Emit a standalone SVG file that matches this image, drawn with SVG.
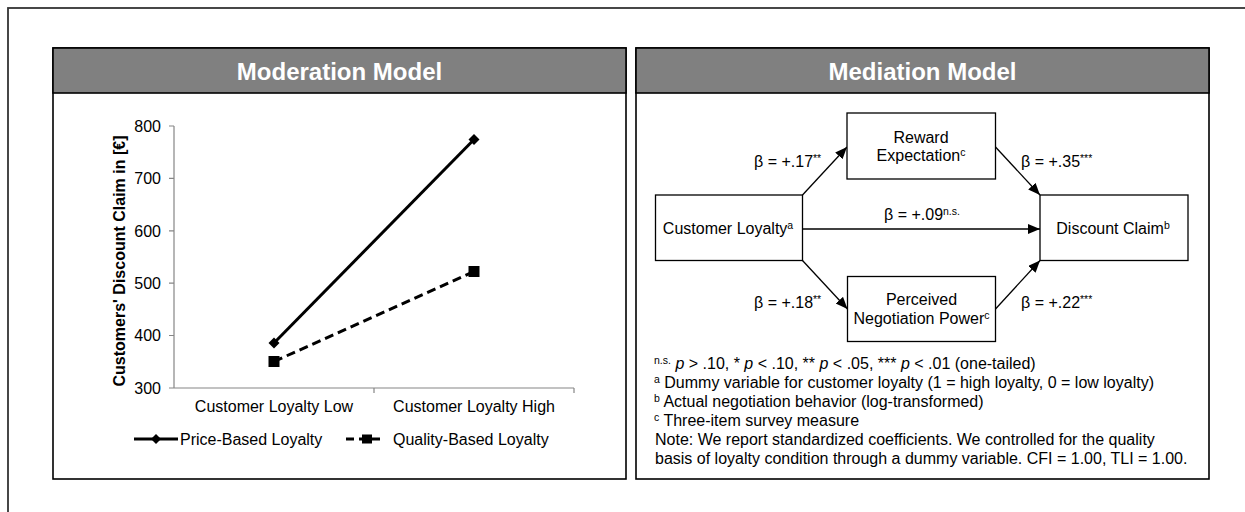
<svg xmlns="http://www.w3.org/2000/svg" width="1245" height="512" viewBox="0 0 1245 512">
<style>
text{font-family:"Liberation Sans",Arial,sans-serif;font-size:16px;fill:#000}
.hdr{font-size:24px;font-weight:bold;fill:#fff}
.panel{fill:#fff;stroke:#000;stroke-width:1.6}
.head{fill:#808080;stroke:#000;stroke-width:1.6}
.box{fill:#fff;stroke:#000;stroke-width:1.3}
.axis{stroke:#868686;stroke-width:1.2;fill:none}
.conn{stroke:#000;stroke-width:1.3;fill:none;marker-end:url(#ah)}
.sup{font-size:10.5px}
</style>
<defs>
<marker id="ah" markerUnits="userSpaceOnUse" markerWidth="13" markerHeight="11" refX="12" refY="5" orient="auto">
<path d="M0,0 L12,5 L0,10 z" fill="#000"/>
</marker>
</defs>
<rect x="8" y="8" width="1260" height="530" fill="#fff" stroke="#333" stroke-width="1.8"/>

<g id="moderation-panel">
<rect class="panel" x="53" y="48" width="573" height="431"/>
<rect class="head" x="53" y="48" width="573" height="45"/>
<text class="hdr" x="339.5" y="79.5" text-anchor="middle">Moderation Model</text>
</g>

<g id="chart">
<path class="axis" d="M174,126 V388 H574 M169,126 H174 M169,178.4 H174 M169,230.8 H174 M169,283.1 H174 M169,335.5 H174 M169,388 H174 M374,388 V393 M574,388 V393"/>
<text x="161" y="131.8" text-anchor="end">800</text>
<text x="161" y="184.2" text-anchor="end">700</text>
<text x="161" y="236.6" text-anchor="end">600</text>
<text x="161" y="288.9" text-anchor="end">500</text>
<text x="161" y="341.3" text-anchor="end">400</text>
<text x="161" y="393.8" text-anchor="end">300</text>
<text transform="translate(125,261) rotate(-90)" text-anchor="middle" font-weight="bold" font-size="16.4">Customers' Discount Claim in [€]</text>
<text x="274" y="412" text-anchor="middle">Customer Loyalty Low</text>
<text x="474" y="412" text-anchor="middle">Customer Loyalty High</text>
<g id="price-series">
<line x1="274" y1="343" x2="474" y2="139.5" stroke="#000" stroke-width="3"/>
<path d="M274,337.5 L279.5,343 L274,348.5 L268.5,343 z" fill="#000"/>
<path d="M474,134 L479.5,139.5 L474,145 L468.5,139.5 z" fill="#000"/>
</g>
<g id="quality-series">
<line x1="274" y1="361.5" x2="474" y2="271.5" stroke="#000" stroke-width="3" stroke-dasharray="9,5"/>
<rect x="268.5" y="356" width="11" height="11" fill="#000"/>
<rect x="468.5" y="266" width="11" height="11" fill="#000"/>
</g>
<g id="legend">
<line x1="134" y1="439" x2="178" y2="439" stroke="#000" stroke-width="3"/>
<path d="M156,434 L161,439 L156,444 L151,439 z" fill="#000"/>
<text x="180" y="445">Price-Based Loyalty</text>
<line x1="346" y1="439" x2="384" y2="439" stroke="#000" stroke-width="3" stroke-dasharray="8,5"/>
<rect x="362" y="434.5" width="10" height="9" fill="#000"/>
<text x="393" y="445">Quality-Based Loyalty</text>
</g>
</g>

<g id="mediation-panel">
<rect class="panel" x="636" y="48" width="573" height="431"/>
<rect class="head" x="636" y="48" width="573" height="45"/>
<text class="hdr" x="922.5" y="79.5" text-anchor="middle">Mediation Model</text>
</g>

<g id="connectors">
<line class="conn" x1="802.5" y1="195" x2="847" y2="147"/>
<line class="conn" x1="995.5" y1="147" x2="1040" y2="195"/>
<line class="conn" x1="802.5" y1="229" x2="1040" y2="229"/>
<line class="conn" x1="802.5" y1="260.5" x2="847.5" y2="309"/>
<line class="conn" x1="995.5" y1="309" x2="1040" y2="260.5"/>
<text x="754" y="167">β = +.17<tspan class="sup" dy="-5">**</tspan></text>
<text x="1021" y="167">β = +.35<tspan class="sup" dy="-5">***</tspan></text>
<text x="884" y="220">β = +.09<tspan class="sup" dy="-5">n.s.</tspan></text>
<text x="754" y="308">β = +.18<tspan class="sup" dy="-5">**</tspan></text>
<text x="1021" y="308">β = +.22<tspan class="sup" dy="-5">***</tspan></text>
</g>

<g id="customer-loyalty">
<rect class="box" x="655.5" y="195" width="147" height="65.5"/>
<text x="728" y="234" text-anchor="middle">Customer Loyalty<tspan class="sup" dy="-5">a</tspan></text>
</g>
<g id="reward-expectation">
<rect class="box" x="847" y="113" width="148.5" height="66"/>
<text x="921" y="143" text-anchor="middle">Reward</text>
<text x="921" y="161" text-anchor="middle">Expectation<tspan class="sup" dy="-5">c</tspan></text>
</g>
<g id="perceived-negotiation-power">
<rect class="box" x="847.5" y="276.5" width="148" height="65"/>
<text x="921.5" y="305" text-anchor="middle">Perceived</text>
<text x="921.5" y="324" text-anchor="middle">Negotiation Power<tspan class="sup" dy="-5">c</tspan></text>
</g>
<g id="discount-claim">
<rect class="box" x="1040" y="195" width="148" height="65.5"/>
<text x="1113" y="234" text-anchor="middle">Discount Claim<tspan class="sup" dy="-5">b</tspan></text>
</g>

<g id="footnotes">
<text x="654" y="369"><tspan class="sup" dy="-5">n.s.</tspan><tspan dy="5"> </tspan><tspan font-style="italic">p</tspan> &gt; .10, * <tspan font-style="italic">p</tspan> &lt; .10, ** <tspan font-style="italic">p</tspan> &lt; .05, *** <tspan font-style="italic">p</tspan> &lt; .01 (one-tailed)</text>
<text x="654" y="388"><tspan class="sup" dy="-5">a</tspan><tspan dy="5"> Dummy variable for customer loyalty (1 = high loyalty, 0 = low loyalty)</tspan></text>
<text x="654" y="407"><tspan class="sup" dy="-5">b</tspan><tspan dy="5"> Actual negotiation behavior (log-transformed)</tspan></text>
<text x="654" y="426"><tspan class="sup" dy="-5">c</tspan><tspan dy="5"> Three-item survey measure</tspan></text>
<text x="655" y="445">Note: We report standardized coefficients. We controlled for the quality</text>
<text x="655" y="464">basis of loyalty condition through a dummy variable. CFI = 1.00, TLI = 1.00.</text>
</g>
</svg>
